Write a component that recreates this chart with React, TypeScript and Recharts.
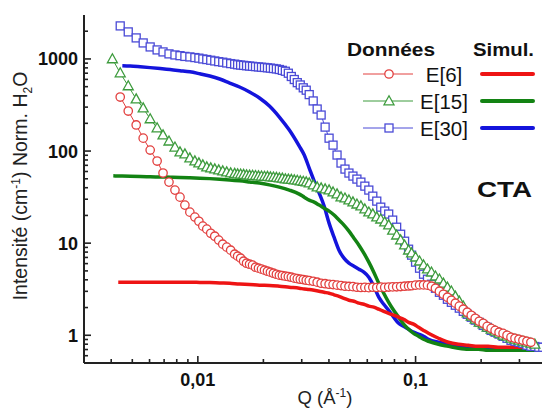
import React from "react";
import { ComposedChart, Line, XAxis, YAxis } from "recharts";

// ---- Data ----
const qData = [
  0.00405, 0.0044, 0.00479, 0.00521, 0.00561, 0.00604, 0.0065, 0.00692, 0.00737, 0.00785, 0.00828, 0.00872, 0.00919, 0.00969, 0.01011, 0.01054, 0.01099, 0.01146, 0.01196, 0.01247, 0.01301, 0.01357, 0.01415, 0.01476,
  0.01523, 0.01572, 0.01622, 0.01674, 0.01728, 0.01783, 0.0184, 0.01899, 0.0196, 0.02023, 0.02088, 0.02154, 0.02224, 0.02295, 0.02368, 0.02444, 0.02523, 0.02604, 0.02687, 0.02773, 0.02862, 0.02954, 0.03049, 0.03146, 0.03247,
  0.03387, 0.03532, 0.03683, 0.03842, 0.04006, 0.04178, 0.04358, 0.04545, 0.0474, 0.04943, 0.05156, 0.05377, 0.05608, 0.05848, 0.06099, 0.06361, 0.06634, 0.06919, 0.07216, 0.07526, 0.07849, 0.08186, 0.08537, 0.08903, 0.09286,
  0.09588, 0.1, 0.1043, 0.1088, 0.1134, 0.1183, 0.1234, 0.1287, 0.1342, 0.14, 0.146, 0.1523, 0.1588, 0.1656, 0.1727, 0.1802, 0.1879, 0.196, 0.2044, 0.2132, 0.2223, 0.2319, 0.2418, 0.2522, 0.263, 0.2743, 0.2861, 0.2984, 0.3112, 0.3246, 0.3385, 0.353, 0.3682, 0.384,
];

const e30Data = [
  null, 2284, 1966, 1692, 1492, 1350, 1253, 1192, 1135, 1105, 1085, 1065, 1052, 1035, 1020, 1000, 985, 968, 951, 935, 922, 905, 890, 878,
  865, 858, 851, 843, 837, 831, 825, 819, 813, 808, 801, 795, 787, 779, 768, 752, 735, 700, 645, 598, 553, 522, 486, 458, 410,
  350, 286, 246, 182, 138, 116, 90.5, 74.1, 63.7, 57.7, 53.5, 49.6, 46.0, 41.6, 37.7, 32.4, 28.6, 24.6, 22.3, 20.7, 17.8, 14.9, 12.5, 10.5, 8.6,
  7.41, 6.22, 5.35, 4.6, 4.06, 3.58, 3.24, 2.93, 2.72, 2.46, 2.28, 2.12, 1.97, 1.82, 1.69, 1.57, 1.46, 1.38, 1.28, 1.22, 1.13, 1.08, 1.03, 0.975, 0.928, 0.882, 0.861, 0.839, 0.819, 0.779, 0.759, 0.755, 0.741, 0.741,
];

const e15Data = [
  1000, 704, 509, 367, 293, 223, 178, 149, 128, 110, 97.5, 92.8, 83.9, 77.9, 74.1, 70.4, 67.0, 65.3, 63.7, 62.2, 60.6, 59.1, 57.7, 57.0,
  56.2, 56.0, 55.6, 54.8, 54.6, 54.3, 54.0, 53.5, 53.3, 53.0, 52.8, 52.2, 52.0, 51.5, 50.9, 50.5, 49.6, 49.3, 49.0, 48.4, 48.0, 47.2, 46.8, 46.0, 44.9,
  42.7, 40.6, 39.6, 38.6, 37.7, 35.8, 34.1, 31.6, 30.8, 29.3, 27.9, 26.5, 25.3, 23.4, 21.7, 20.7, 19.2, 18.2, 16.9, 15.7, 13.8, 12.2, 10.8, 9.51, 8.39,
  7.79, 7.04, 6.37, 5.77, 5.22, 4.84, 4.38, 4.06, 3.67, 3.32, 3.01, 2.65, 2.34, 2.07, 1.74, 1.61, 1.49, 1.38, 1.32, 1.22, 1.16, 1.105, 1.05, 1.0, 0.975, 0.928, 0.905, 0.882, 0.861, 0.839, 0.819, 0.798, null, null,
];

const e6Data = [
  null, 386, 272, 192, 138, 102.5, 77.9, 57.7, 46.0, 37.7, 31.6, 25.9, 21.7, 19.2, 17.3, 15.3, 14.2, 12.8, 11.9, 10.8, 9.75, 9.05, 8.39, 7.59,
  7.22, 6.87, 6.37, 6.06, 5.91, 5.77, 5.48, 5.35, 5.22, 5.09, 4.96, 4.84, 4.72, 4.6, 4.49, 4.45, 4.38, 4.33, 4.27, 4.17, 4.12, 4.06, 4.02, 3.96, 3.92,
  3.86, 3.77, 3.67, 3.63, 3.58, 3.55, 3.5, 3.46, 3.41, 3.39, 3.37, 3.32, 3.3, 3.31, 3.29, 3.32, 3.3, 3.33, 3.31, 3.34, 3.35, 3.36, 3.38, 3.41, 3.43,
  3.45, 3.5, 3.52, 3.52, 3.5, 3.41, 3.24, 3.01, 2.79, 2.59, 2.4, 2.23, 2.07, 1.92, 1.78, 1.65, 1.53, 1.42, 1.35, 1.25, 1.19, 1.13, 1.08, 1.05, 1.0, 0.951, 0.928, 0.905, 0.882, 0.861, 0.839, null, null, null,
];

const qSim = [
  0.00409, 0.00431, 0.0045, 0.00489, 0.00544, 0.00604, 0.00671, 0.00745, 0.00828, 0.00919, 0.01021, 0.01134, 0.0126, 0.014, 0.01555, 0.01728, 0.01919, 0.02132, 0.02368, 0.02631,
  0.02923, 0.03081, 0.03247, 0.03422, 0.03607, 0.03801, 0.04006, 0.04223, 0.0445, 0.0469, 0.04943, 0.05212, 0.05493, 0.05787, 0.06099, 0.06428, 0.06775, 0.07141, 0.07526, 0.07932,
  0.0836, 0.08811, 0.09286, 0.09792, 0.1032, 0.1088, 0.1146, 0.1274, 0.1415, 0.1572, 0.1746, 0.194, 0.2154, 0.2393, 0.2803, 0.328, 0.384,
];

const e30Sim = [
  null, null, 845, 838, 822, 805, 786, 766, 746, 725, 690, 653, 606, 548, 496, 438, 377, 308, 234, 169,
  113, 90.5, 65.3, 47.2, 35.0, 25.3, 16.5, 11.6, 8.39, 6.87, 6.06, 5.62, 5.22, 4.84, 4.27, 3.41, 2.59, 2.17, 1.87, 1.57,
  1.35, 1.25, 1.16, 1.08, 1.03, 0.975, 0.905, 0.839, 0.798, 0.759, 0.741, 0.722, 0.704, 0.704, 0.687, 0.687, 0.687,
];

const e15Sim = [
  53.8, 53.6, 53.5, 53.3, 53.0, 52.6, 52.3, 52.0, 51.6, 51.2, 50.8, 50.2, 49.5, 48.6, 47.5, 46.2, 44.9, 42.9, 40.6, 37.7,
  34.1, 31.6, 29.3, 27.9, 25.9, 24.0, 22.3, 20.2, 17.8, 15.7, 13.5, 11.3, 9.51, 7.79, 6.22, 4.84, 3.67, 2.86, 2.28, 1.87,
  1.57, 1.32, 1.16, 1.05, 0.975, 0.905, 0.861, 0.798, 0.759, 0.722, 0.704, 0.704, 0.687, 0.687, 0.687, 0.687, 0.687,
];

const e6Sim = [
  null, 3.77, 3.77, 3.77, 3.77, 3.77, 3.77, 3.77, 3.76, 3.76, 3.75, 3.74, 3.7, 3.67, 3.6, 3.56, 3.5, 3.48, 3.41, 3.32,
  3.24, 3.18, 3.14, 3.08, 3.01, 2.93, 2.86, 2.75, 2.65, 2.52, 2.4, 2.34, 2.23, 2.17, 2.07, 2.02, 1.92, 1.82, 1.73, 1.65,
  1.57, 1.49, 1.38, 1.32, 1.22, 1.13, 1.05, 0.928, 0.839, 0.798, 0.779, 0.759, 0.759, 0.741, 0.741, 0.741, null,
];

const seriesNames = ["E[6]", "E[15]", "E[30]"];

const xTicks = [0.004, 0.005, 0.006, 0.007, 0.008, 0.009, 0.01, 0.02, 0.03, 0.04, 0.05, 0.06, 0.07, 0.08, 0.09, 0.1, 0.2, 0.3, 0.4];
const xTickLabels: Record<string, string> = { "0.01": "0,01", "0.1": "0,1" };
const yTicks = [
  0.6, 0.7, 0.8, 0.9, 1, 2, 3, 4, 5, 6, 7, 8, 9, 10, 20, 30, 40, 50, 60, 70, 80, 90,
  100, 200, 300, 400, 500, 600, 700, 800, 900, 1000, 2000,
];
const yTickLabels: Record<string, string> = { "1": "1", "10": "10", "100": "100", "1000": "1000" };

// ---- Styles ----
const FONT = "'Liberation Sans', Arial, Helvetica, sans-serif";
const AXIS = "#222";
const RED_D = "#e2403f";
const GREEN_D = "#3d9b3d";
const BLUE_D = "#4a4ad6";
const RED_S = "#ee1414";
const GREEN_S = "#138313";
const BLUE_S = "#1414dc";

const toRows = (q: number[], v: (number | null)[]) =>
  q.map((x, i) => ({ q: x, v: v[i] })).filter((d) => d.v !== null && d.v !== undefined);

const circleDot = (color: string) => (p: any) =>
  p.cx == null || p.cy == null ? (
    <g key={`c${p.index}`} />
  ) : (
    <circle key={`c${p.index}`} cx={p.cx} cy={p.cy} r={4.2} fill="#fff" stroke={color} strokeWidth={1.3} />
  );

const triDot = (color: string) => (p: any) =>
  p.cx == null || p.cy == null ? (
    <g key={`t${p.index}`} />
  ) : (
    <polygon
      key={`t${p.index}`}
      points={`${p.cx},${p.cy - 5.2} ${p.cx + 5},${p.cy + 3.8} ${p.cx - 5},${p.cy + 3.8}`}
      fill="#fff"
      stroke={color}
      strokeWidth={1.3}
    />
  );

const sqDot = (color: string) => (p: any) =>
  p.cx == null || p.cy == null ? (
    <g key={`s${p.index}`} />
  ) : (
    <rect key={`s${p.index}`} x={p.cx - 4} y={p.cy - 4} width={8} height={8} fill="#fff" stroke={color} strokeWidth={1.3} />
  );

const XTickBottom = (props: any) => {
  const { x, y, payload } = props;
  const lab = xTickLabels[String(payload.value)];
  const len = lab ? 7 : 4;
  return (
    <g>
      <line x1={x} y1={y} x2={x} y2={y - len} stroke={AXIS} strokeWidth={1.6} />
      {lab ? (
        <text x={x} y={y + 23} textAnchor="middle" fontFamily={FONT} fontWeight="bold" fontSize={18} fill="#111">
          {lab}
        </text>
      ) : null}
    </g>
  );
};

const XTickTop = (props: any) => {
  const { x, y, payload } = props;
  const lab = xTickLabels[String(payload.value)];
  const len = lab ? 7 : 4;
  return <line x1={x} y1={y} x2={x} y2={y + len} stroke={AXIS} strokeWidth={1.6} />;
};

const YTickLeft = (props: any) => {
  const { x, y, payload } = props;
  const lab = yTickLabels[String(payload.value)];
  const len = lab ? 7 : 4;
  return (
    <g>
      <line x1={x} y1={y} x2={x + len} y2={y} stroke={AXIS} strokeWidth={1.6} />
      {lab ? (
        <text x={x - 6} y={y} dy="0.36em" textAnchor="end" fontFamily={FONT} fontWeight="bold" fontSize={18} fill="#111">
          {lab}
        </text>
      ) : null}
    </g>
  );
};

const YTickRight = (props: any) => {
  const { x, y, payload } = props;
  const lab = yTickLabels[String(payload.value)];
  if (!lab) return <g />;
  return <line x1={x - 4} y1={y} x2={x} y2={y} stroke={AXIS} strokeWidth={1.6} />;
};

export default function App() {
  const d6 = toRows(qData, e6Data);
  const d15 = toRows(qData, e15Data);
  const d30 = toRows(qData, e30Data);
  const s6 = toRows(qSim, e6Sim);
  const s15 = toRows(qSim, e15Sim);
  const s30 = toRows(qSim, e30Sim);

  const legendRows = [
    { name: seriesNames[0], y: 66, dc: RED_D, sc: RED_S, mk: "c" },
    { name: seriesNames[1], y: 93, dc: GREEN_D, sc: GREEN_S, mk: "t" },
    { name: seriesNames[2], y: 120, dc: BLUE_D, sc: BLUE_S, mk: "s" },
  ];

  return (
    <div style={{ position: "relative", width: 542, height: 400 }}>
      <ComposedChart width={542} height={400} margin={{ top: 7, right: 1, bottom: 0, left: 0 }}>
        <XAxis
          dataKey="q"
          type="number"
          scale="log"
          domain={[0.003, 0.41]}
          allowDataOverflow
          ticks={xTicks}
          interval={0}
          height={45}
          tickSize={0}
          tickMargin={0}
          tick={<XTickBottom />}
          axisLine={{ stroke: AXIS, strokeWidth: 2 }}
          tickLine={false}
        />
        <XAxis
          xAxisId="top"
          orientation="top"
          dataKey="q"
          type="number"
          scale="log"
          domain={[0.003, 0.41]}
          allowDataOverflow
          ticks={xTicks}
          interval={0}
          height={0}
          tickSize={0}
          tickMargin={0}
          tick={<XTickTop />}
          axisLine={{ stroke: AXIS, strokeWidth: 2 }}
          tickLine={false}
        />
        <YAxis
          dataKey="v"
          type="number"
          scale="log"
          domain={[0.5, 3000]}
          allowDataOverflow
          ticks={yTicks}
          interval={0}
          width={76}
          tickSize={0}
          tickMargin={0}
          tick={<YTickLeft />}
          axisLine={{ stroke: AXIS, strokeWidth: 2 }}
          tickLine={false}
        />
        <YAxis
          yAxisId="right"
          orientation="right"
          dataKey="v"
          type="number"
          scale="log"
          domain={[0.5, 3000]}
          allowDataOverflow
          ticks={yTicks}
          interval={0}
          width={0}
          tickSize={0}
          tickMargin={0}
          tick={<YTickRight />}
          axisLine={false}
          tickLine={false}
        />

        <Line data={d30} dataKey="v" type="linear" stroke={BLUE_D} strokeWidth={1} dot={sqDot(BLUE_D)} activeDot={false} isAnimationActive={false} />
        <Line data={d15} dataKey="v" type="linear" stroke={GREEN_D} strokeWidth={1} dot={triDot(GREEN_D)} activeDot={false} isAnimationActive={false} />
        <Line data={d6} dataKey="v" type="linear" stroke={RED_D} strokeWidth={1} dot={circleDot(RED_D)} activeDot={false} isAnimationActive={false} />

        <Line data={s30} dataKey="v" type="monotone" stroke={BLUE_S} strokeWidth={3.5} dot={false} activeDot={false} isAnimationActive={false} />
        <Line data={s15} dataKey="v" type="monotone" stroke={GREEN_S} strokeWidth={3.5} dot={false} activeDot={false} isAnimationActive={false} />
        <Line data={s6} dataKey="v" type="monotone" stroke={RED_S} strokeWidth={3.5} dot={false} activeDot={false} isAnimationActive={false} />
      </ComposedChart>

      <svg
        width={542}
        height={400}
        style={{ position: "absolute", left: 0, top: 0, pointerEvents: "none" }}
        fontFamily={FONT}
      >
        {/* Y axis title */}
        <text transform="translate(19,178) rotate(-90)" textAnchor="middle" fontSize={19.5} fill="#222">
          Intensité (cm
          <tspan dy={-7} fontSize={12}>-1</tspan>
          <tspan dy={7}>) Norm. H</tspan>
          <tspan dy={5} fontSize={12}>2</tspan>
          <tspan dy={-5}>O</tspan>
        </text>
        {/* X axis title */}
        <text x={317} y={396} textAnchor="middle" fontSize={18.5} fill="#222">
          Q (Å
          <tspan dy={-7} fontSize={12}>-1</tspan>
          <tspan dy={7}>)</tspan>
        </text>

        {/* Legend */}
        <text x={339} y={48} fontSize={19} fontWeight="bold" fill="#111" textLength={88} lengthAdjust="spacingAndGlyphs">
          Données
        </text>
        <text x={465} y={48} fontSize={19} fontWeight="bold" fill="#111" textLength={61} lengthAdjust="spacingAndGlyphs">
          Simul.
        </text>
        {legendRows.map((r) => (
          <g key={r.name}>
            <line x1={355} y1={r.y} x2={405} y2={r.y} stroke={r.dc} strokeWidth={1} />
            {r.mk === "c" ? (
              <circle cx={381} cy={r.y} r={4.2} fill="#fff" stroke={r.dc} strokeWidth={1.3} />
            ) : r.mk === "t" ? (
              <polygon points={`381,${r.y - 5.2} 386,${r.y + 3.8} 376,${r.y + 3.8}`} fill="#fff" stroke={r.dc} strokeWidth={1.3} />
            ) : (
              <rect x={377} y={r.y - 4} width={8} height={8} fill="#fff" stroke={r.dc} strokeWidth={1.3} />
            )}
            <text x={436} y={r.y + 7.5} textAnchor="middle" fontSize={20.5} fill="#111">
              {r.name}
            </text>
            <line x1={474} y1={r.y} x2={525} y2={r.y} stroke={r.sc} strokeWidth={4} strokeLinecap="round" />
          </g>
        ))}
        <text x={469} y={189} fontSize={22} fontWeight="bold" fill="#111" textLength={55} lengthAdjust="spacingAndGlyphs">
          CTA
        </text>
      </svg>
    </div>
  );
}
